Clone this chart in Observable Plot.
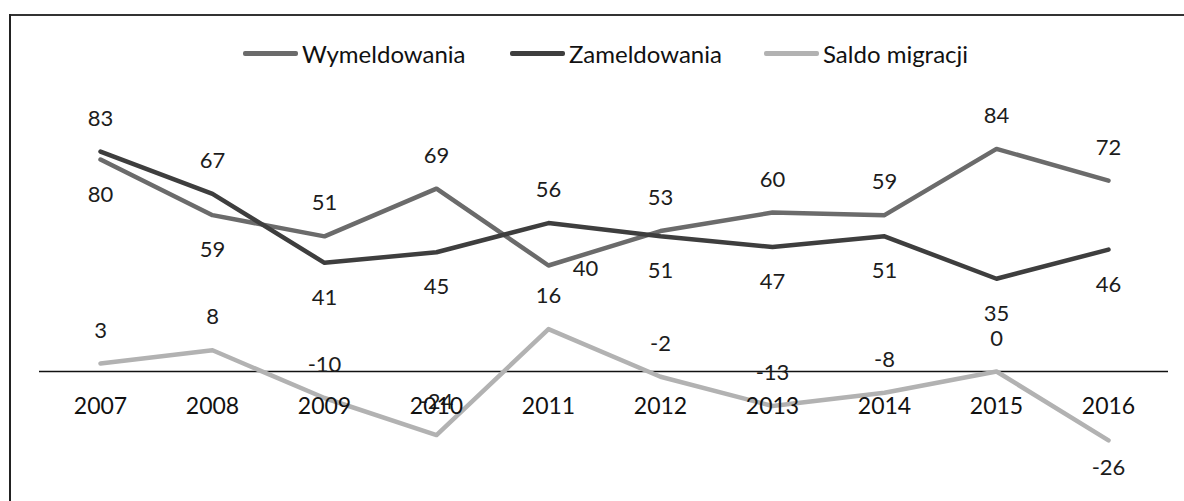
<!DOCTYPE html>
<html>
<head>
<meta charset="utf-8">
<script src="https://cdn.jsdelivr.net/npm/d3@7"></script>
<script src="https://cdn.jsdelivr.net/npm/@observablehq/plot@0.6"></script>
<style>
  body { margin: 0; background: #fff; }
  #wrap { position: relative; width: 1184px; height: 501px; background: #fff; overflow: hidden; font-family: Lato, "Open Sans", sans-serif; }
  #legend { position: relative; height: 80px; }
  .item { position: absolute; top: 38px; height: 30px; display: flex; align-items: center; font-size: 24px; color: #111; white-space: nowrap; }
  .swatch { width: 55px; height: 5px; margin-right: 4px; border-radius: 2px; }
  .btop { position: absolute; left: 9px; top: 14px; right: 0; height: 2px; background: #333; z-index: 5; }
  .bleft { position: absolute; left: 9px; top: 14px; bottom: 0; width: 2px; background: #222; z-index: 5; }
</style>
</head>
<body>
<div id="wrap">
  <div id="legend"></div>
  <div id="chart"></div>
  <div class="btop"></div>
  <div class="bleft"></div>
</div>
<script>
// ---- data ----
const years = [2007, 2008, 2009, 2010, 2011, 2012, 2013, 2014, 2015, 2016];
const wymeldowania = [80, 59, 51, 69, 40, 53, 60, 59, 84, 72];
const zameldowania = [83, 67, 41, 45, 56, 51, 47, 51, 35, 46];
const saldo = [3, 8, -10, -24, 16, -2, -13, -8, 0, -26];
const seriesNames = ["Wymeldowania", "Zameldowania", "Saldo migracji"];

// ---- label placement (layout config) ----
const wymSide = ["below", "below", "above", "above", "right", "above", "above", "above", "above", "above"];
const zamSide = ["above", "above", "below", "below", "above", "below", "below", "below", "below", "below"];
const saldoSide = ["above", "above", "above", "above", "above", "above", "above", "above", "above", "below"];

const colors = ["#6b6b6b", "#3e3e3e", "#b2b2b2"];

// ---- legend ----
const legend = document.getElementById("legend");
const legendLeft = [243, 510, 764];
seriesNames.forEach((name, i) => {
  const it = document.createElement("div");
  it.className = "item";
  it.style.left = legendLeft[i] + "px";
  const sw = document.createElement("div");
  sw.className = "swatch";
  sw.style.background = colors[i];
  const tx = document.createElement("span");
  tx.textContent = name;
  it.appendChild(sw);
  it.appendChild(tx);
  legend.appendChild(it);
});

// ---- table ----
const rows = years.map((year, i) => ({year, wym: wymeldowania[i], zam: zameldowania[i], saldo: saldo[i]}));

function labels(key, sides, extra = {}) {
  const marks = [];
  const offs = {above: {dx: 0, dy: -33}, below: {dx: 0, dy: 35}, right: {dx: 37, dy: 3}};
  for (const side of ["above", "below", "right"]) {
    const sub = rows.filter((d, i) => sides[i] === side);
    if (!sub.length) continue;
    marks.push(Plot.text(sub, {
      x: "year", y: key, text: d => String(d[key]),
      dx: offs[side].dx, dy: offs[side].dy + (side === "below" && key === "saldo" ? -7 : 0),
      fontSize: 22, fill: "#1c1c1c", fontFamily: "Lato, 'Open Sans', sans-serif"
    }));
  }
  return marks;
}

const chart = Plot.plot({
  width: 1184,
  height: 421,
  marginLeft: 39,
  marginRight: 16,
  marginTop: 26,
  marginBottom: 24,
  style: {background: "transparent", overflow: "visible"},
  x: {type: "point", domain: years, padding: 0.5, axis: null},
  y: {domain: [-40, 100], axis: null},
  marks: [
    Plot.ruleY([0], {stroke: "#111", strokeWidth: 1.6}),
    Plot.line(rows, {x: "year", y: "saldo", stroke: colors[2], strokeWidth: 4.5, strokeLinejoin: "round", strokeLinecap: "round"}),
    Plot.line(rows, {x: "year", y: "wym", stroke: colors[0], strokeWidth: 4.5, strokeLinejoin: "round", strokeLinecap: "round"}),
    Plot.line(rows, {x: "year", y: "zam", stroke: colors[1], strokeWidth: 4.5, strokeLinejoin: "round", strokeLinecap: "round"}),
    ...labels("wym", wymSide),
    ...labels("zam", zamSide),
    ...labels("saldo", saldoSide),
    Plot.text(years, {x: d => d, y: () => 0, text: d => String(d), dy: 35, fontSize: 23, fill: "#111", fontFamily: "Lato, 'Open Sans', sans-serif"})
  ]
});
document.getElementById("chart").appendChild(chart);
</script>
</body>
</html>
